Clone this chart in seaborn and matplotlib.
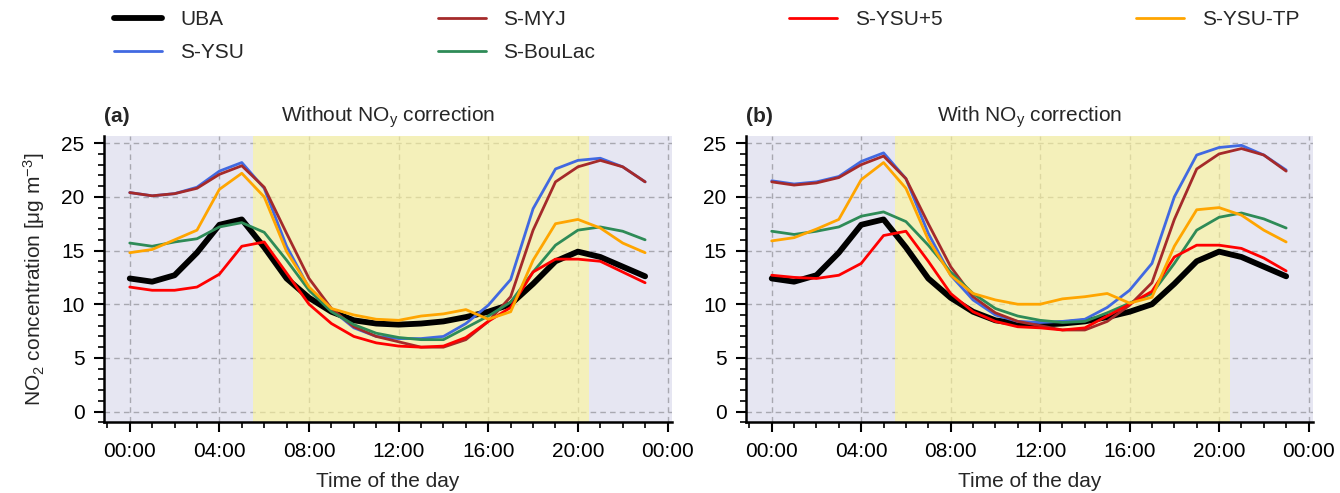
import matplotlib
matplotlib.use("Agg")
import matplotlib.pyplot as plt
from matplotlib.ticker import MultipleLocator, FuncFormatter
import seaborn as sns
import pandas as pd

hours = list(range(24))
series_names = ["UBA", "S-YSU", "S-MYJ", "S-BouLac", "S-YSU+5", "S-YSU-TP"]

uba = [12.4, 12.1, 12.7, 14.8, 17.4, 17.9, 15.3, 12.4, 10.6, 9.3, 8.5, 8.2,
       8.1, 8.2, 8.4, 8.8, 9.3, 10.0, 11.9, 14.0, 14.9, 14.4, 13.5, 12.6]

ysu_a = [20.4, 20.1, 20.3, 20.9, 22.4, 23.2, 20.8, 15.4, 11.5, 9.5, 7.8, 7.0,
         6.8, 6.8, 7.0, 8.2, 9.9, 12.3, 18.9, 22.6, 23.4, 23.6, 22.8, 21.4]
myj_a = [20.4, 20.1, 20.3, 20.8, 22.1, 22.9, 20.9, 16.6, 12.4, 9.6, 7.9, 7.0,
         6.5, 6.0, 6.0, 6.7, 8.4, 10.7, 16.9, 21.4, 22.8, 23.4, 22.8, 21.4]
boulac_a = [15.7, 15.4, 15.8, 16.1, 17.2, 17.6, 16.7, 14.1, 11.3, 9.3, 8.1, 7.3,
            6.9, 6.7, 6.7, 7.8, 8.9, 10.2, 13.0, 15.5, 16.9, 17.2, 16.8, 16.0]
ysu5_a = [11.6, 11.3, 11.3, 11.6, 12.8, 15.4, 15.8, 12.9, 10.0, 8.2, 7.0, 6.4,
          6.1, 6.0, 6.1, 6.9, 8.4, 9.7, 13.0, 14.2, 14.2, 14.0, 13.0, 12.0]
ysutp_a = [14.8, 15.1, 16.0, 16.9, 20.7, 22.2, 20.0, 14.9, 11.6, 9.6, 9.0, 8.6,
           8.5, 8.9, 9.1, 9.5, 8.6, 9.3, 14.1, 17.5, 17.9, 17.1, 15.7, 14.8]

ysu_b = [21.5, 21.2, 21.4, 21.9, 23.3, 24.1, 21.7, 16.6, 12.7, 10.4, 9.0, 8.4,
         8.3, 8.4, 8.6, 9.7, 11.3, 13.8, 20.0, 23.9, 24.6, 24.8, 23.9, 22.5]
myj_b = [21.4, 21.1, 21.3, 21.8, 23.0, 23.8, 21.7, 17.5, 13.5, 10.7, 9.2, 8.4,
         8.0, 7.6, 7.6, 8.4, 9.9, 12.0, 17.9, 22.6, 24.0, 24.5, 23.9, 22.4]
boulac_b = [16.8, 16.5, 16.8, 17.2, 18.2, 18.6, 17.7, 15.5, 13.0, 11.0, 9.6, 8.9,
            8.5, 8.3, 8.4, 9.2, 10.1, 11.0, 13.8, 16.9, 18.1, 18.5, 17.95, 17.1]
ysu5_b = [12.7, 12.5, 12.4, 12.7, 13.8, 16.4, 16.8, 14.0, 11.0, 9.3, 8.4, 7.9,
          7.8, 7.6, 7.8, 8.9, 10.0, 11.2, 14.4, 15.5, 15.5, 15.2, 14.3, 13.1]
ysutp_b = [15.9, 16.2, 17.0, 17.9, 21.6, 23.2, 20.8, 16.0, 12.7, 11.0, 10.4, 10.0,
           10.0, 10.5, 10.7, 11.0, 10.1, 10.65, 15.4, 18.8, 19.0, 18.3, 16.9, 15.8]

panel_titles = ["Without NO$_y$ correction", "With NO$_y$ correction"]
panel_tags = ["(a)", "(b)"]
xtick_hours = [0, 4, 8, 12, 16, 20, 24]

colors = {"UBA": "black", "S-YSU": "#4169e1", "S-MYJ": "#a52a2a",
          "S-BouLac": "#2e8b57", "S-YSU+5": "#ff0000", "S-YSU-TP": "#ffa500"}
widths = {"UBA": 4.2, "S-YSU": 2.0, "S-MYJ": 2.0, "S-BouLac": 2.0,
          "S-YSU+5": 2.0, "S-YSU-TP": 2.0}

panels = [
    {"UBA": uba, "S-YSU": ysu_a, "S-MYJ": myj_a, "S-BouLac": boulac_a,
     "S-YSU+5": ysu5_a, "S-YSU-TP": ysutp_a},
    {"UBA": uba, "S-YSU": ysu_b, "S-MYJ": myj_b, "S-BouLac": boulac_b,
     "S-YSU+5": ysu5_b, "S-YSU-TP": ysutp_b},
]

sns.set_theme(style="ticks")
plt.rcParams['font.family'] = ['Liberation Sans', 'DejaVu Sans']
plt.rcParams['mathtext.default'] = 'regular'
FS = 15

fig = plt.figure(figsize=(13.4, 4.93), dpi=100)
ax_a = fig.add_axes([104 / 1340, 1 - 422.3 / 493, 568 / 1340, 286.6 / 493])
ax_b = fig.add_axes([746 / 1340, 1 - 422.3 / 493, 567 / 1340, 286.6 / 493])

for i, (ax, pdata) in enumerate(zip([ax_a, ax_b], panels)):
    ax.set_facecolor("#e6e6f2")
    ax.set_axisbelow(True)
    ax.grid(True, which="major", linestyle=(0, (4, 3)), color="#a8a8b0", linewidth=1.0)
    ax.axvspan(5.5, 20.5, color="#fff896", alpha=0.6, linewidth=0, zorder=1)
    for name in series_names:
        df = pd.DataFrame({"hour": hours, "value": pdata[name]})
        sns.lineplot(data=df, x="hour", y="value", ax=ax, color=colors[name],
                     linewidth=widths[name], label=name, zorder=3)
    ax.set_xlim(-1.15, 24.2)
    ax.set_ylim(-1.0, 25.7)
    ax.set_xticks(xtick_hours)
    ax.xaxis.set_minor_locator(MultipleLocator(1))
    ax.yaxis.set_major_locator(MultipleLocator(5))
    ax.yaxis.set_minor_locator(MultipleLocator(1))
    ax.xaxis.set_major_formatter(FuncFormatter(lambda v, p: f"{int(round(v)) % 24:02d}:00"))
    ax.tick_params(axis="both", which="major", length=7, width=1.5, labelsize=FS,
                   direction="out", color="black", labelcolor="black", pad=7)
    ax.tick_params(axis="both", which="minor", length=4, width=1.2, direction="out", color="black")
    for s in ["top", "right"]:
        ax.spines[s].set_visible(False)
    for s in ["left", "bottom"]:
        ax.spines[s].set_linewidth(1.8)
        ax.spines[s].set_color("black")
    ax.set_xlabel("Time of the day", fontsize=FS, labelpad=8)
    if i == 0:
        ax.set_ylabel("NO$_2$ concentration [μg m$^{-3}$]", fontsize=FS, labelpad=10)
    else:
        ax.set_ylabel("")
    ax.set_title(panel_titles[i], fontsize=FS, pad=10)
    ax.set_title(panel_tags[i], loc="left", fontsize=FS, fontweight="bold", pad=10)
    handles, labels = ax.get_legend_handles_labels()
    ax.get_legend().remove()

fig.legend(handles, labels, ncol=4, mode="expand", frameon=False, fontsize=FS,
           loc="upper left", bbox_to_anchor=(104 / 1340, 1.0, 1206 / 1340, 0.0),
           handlelength=2.3, handletextpad=0.85, labelspacing=0.65, borderaxespad=0.1)

fig.savefig("out.png", dpi=100)
